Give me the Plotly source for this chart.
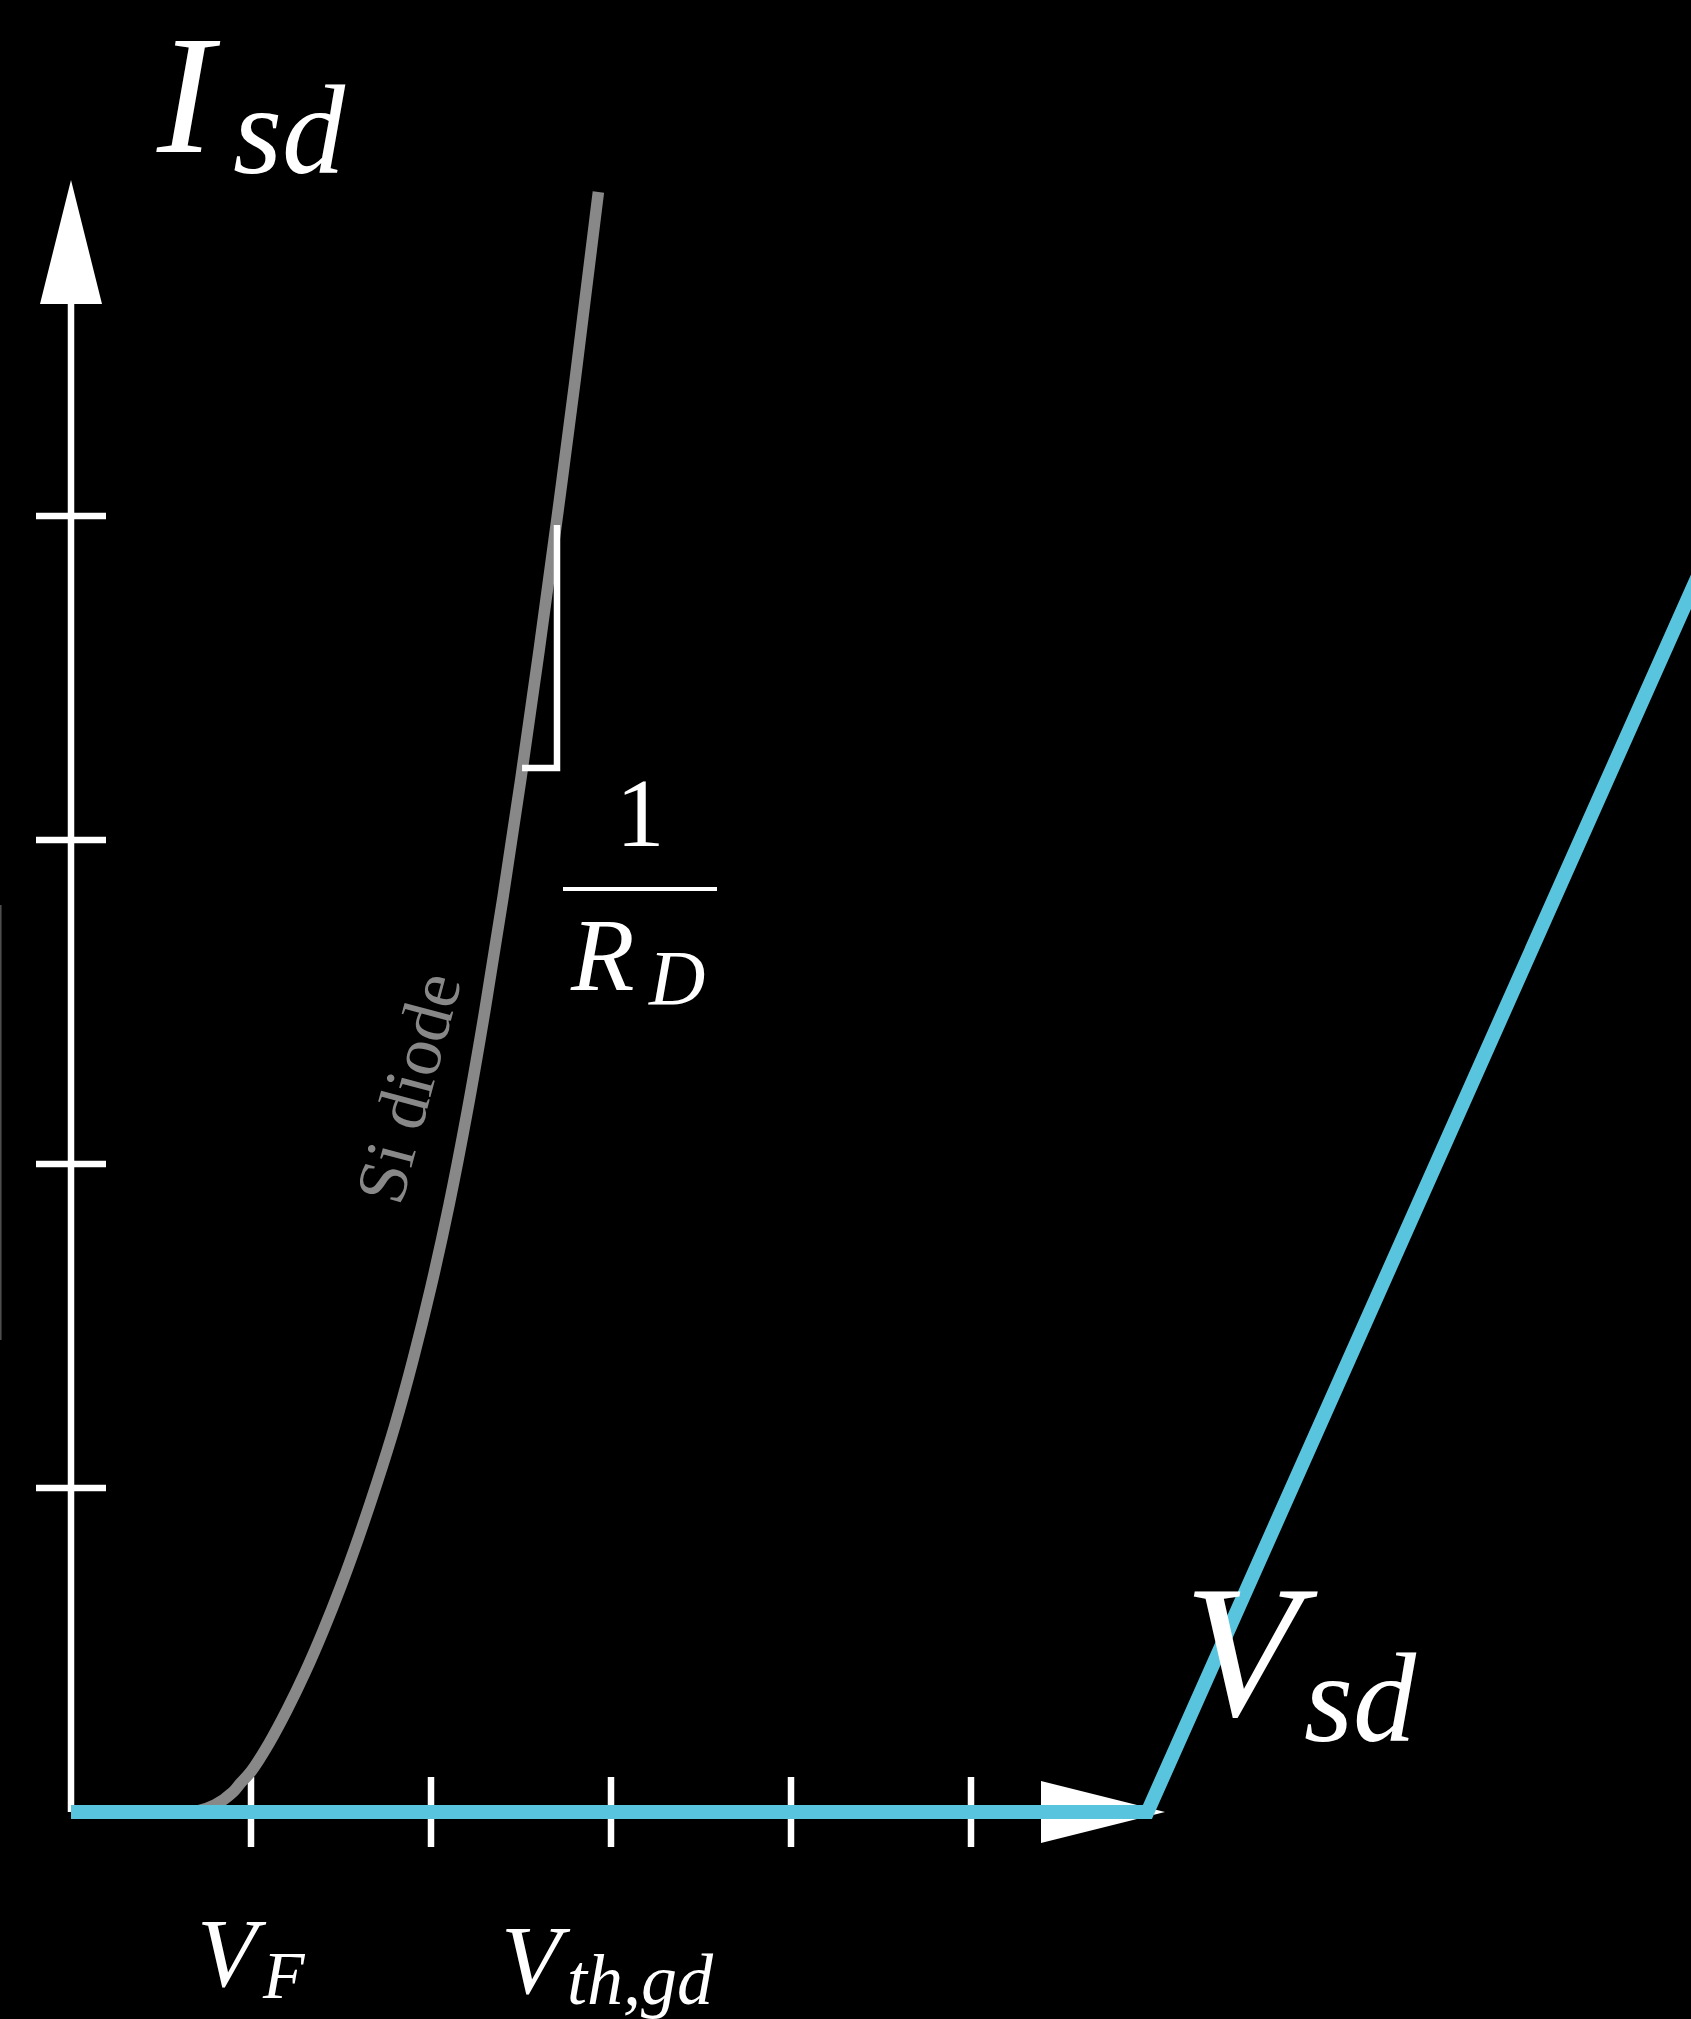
import plotly.graph_objects as go

# ---- data -------------------------------------------------------------
x_ticks = [1, 2, 3, 4, 5]
y_ticks = [1, 2, 3, 4]

# Si diode forward characteristic (V_sd, I_sd)
diode_v = [0.60, 0.70, 0.80, 0.90, 0.94, 1.00, 1.10, 1.20, 1.30, 1.40, 1.50,
           1.60, 1.70, 1.80, 1.90, 2.00, 2.10, 2.20, 2.30, 2.40, 2.50, 2.60,
           2.70, 2.80, 2.93]
diode_i = [0.000, 0.003, 0.022, 0.062, 0.088, 0.125, 0.212, 0.315, 0.430, 0.558,
           0.698, 0.851, 1.016, 1.194, 1.396, 1.621, 1.873, 2.158, 2.476, 2.823,
           3.192, 3.583, 3.992, 4.417, 5.000]

# third-quadrant body conduction (blue trace)
body_v = [0.0, 5.98, 9.5]
body_i = [0.0, 0.0, 4.39]

# slope marker on the diode curve
slope_v = [2.506, 2.70, 2.70]
slope_i = [3.222, 3.222, 3.972]

# ---- canvas / scale ---------------------------------------------------
W, H = 1691, 2019
ORIGIN_X, ORIGIN_Y = 71, 1812      # pixel position of (0, 0)
UX, UY = 180, 324                  # pixels per unit on each axis

def dx(px):
    return px / UX

def dy(px):
    return px / UY

def paper(px, py):
    return px / W, 1 - py / H

X_RANGE = [-ORIGIN_X / UX, (W - ORIGIN_X) / UX]
Y_RANGE = [(ORIGIN_Y - H) / UY, ORIGIN_Y / UY]

WHITE = "#FFFFFF"
GREY = "#888888"
BLUE = "#58C4DD"
AXIS_W = 6.5
TICK_HALF = 35
ARROW_LEN, ARROW_HALF = 124, 31
X_AXIS_TIP = dx(1165 - ORIGIN_X)
Y_AXIS_TIP = dy(ORIGIN_Y - 180)

fig = go.Figure()

# axis lines
fig.add_trace(go.Scatter(
    x=[0, 0, None, 0, X_AXIS_TIP - dx(ARROW_LEN)],
    y=[0, Y_AXIS_TIP - dy(ARROW_LEN), None, 0, 0],
    mode="lines", line=dict(color=WHITE, width=AXIS_W), hoverinfo="skip"))

# tick marks
tx, ty = [], []
for t in x_ticks:
    tx += [t, t, None]
    ty += [-dy(TICK_HALF), dy(TICK_HALF), None]
for t in y_ticks:
    tx += [-dx(TICK_HALF), dx(TICK_HALF), None]
    ty += [t, t, None]
fig.add_trace(go.Scatter(x=tx, y=ty, mode="lines",
                         line=dict(color=WHITE, width=AXIS_W), hoverinfo="skip"))

# arrow heads
fig.add_trace(go.Scatter(
    x=[-dx(ARROW_HALF), dx(ARROW_HALF), 0, -dx(ARROW_HALF)],
    y=[Y_AXIS_TIP - dy(ARROW_LEN)] * 2 + [Y_AXIS_TIP, Y_AXIS_TIP - dy(ARROW_LEN)],
    mode="lines", fill="toself", fillcolor=WHITE,
    line=dict(color=WHITE, width=0), hoverinfo="skip"))
fig.add_trace(go.Scatter(
    x=[X_AXIS_TIP - dx(ARROW_LEN)] * 2 + [X_AXIS_TIP, X_AXIS_TIP - dx(ARROW_LEN)],
    y=[-dy(ARROW_HALF), dy(ARROW_HALF), 0, -dy(ARROW_HALF)],
    mode="lines", fill="toself", fillcolor=WHITE,
    line=dict(color=WHITE, width=0), hoverinfo="skip"))

# Si diode curve
fig.add_trace(go.Scatter(x=diode_v, y=diode_i, mode="lines",
                         line=dict(color=GREY, width=11.5, shape="spline", smoothing=1.0),
                         hoverinfo="skip"))

# slope marker
fig.add_trace(go.Scatter(x=slope_v, y=slope_i, mode="lines",
                         line=dict(color=WHITE, width=AXIS_W), hoverinfo="skip"))

# body diode / channel trace
fig.add_trace(go.Scatter(x=body_v, y=body_i, mode="lines",
                         line=dict(color=BLUE, width=14), hoverinfo="skip"))

# ---- labels -----------------------------------------------------------
MATH = "Liberation Serif"

def label(text, px, py, size, italic=True, color=WHITE, angle=0, family=MATH):
    x, y = paper(px, py)
    fig.add_annotation(
        text=text, x=x, y=y, xref="paper", yref="paper",
        xanchor="center", yanchor="middle", showarrow=False, textangle=angle,
        font=dict(family=family, size=size, color=color,
                  style="italic" if italic else "normal"))

label("I", 188, 95, 170)
label("sd", 289, 131, 126)
label("V", 1251, 1651, 189)
label("sd", 1360, 1698, 126)
label("V", 232, 1953, 98)
label("F", 284, 1975, 68)
label("V", 536, 1960, 98)
label("th,gd", 640, 1980, 72)
label("1", 640, 813, 97, italic=False)
label("R", 602, 954, 104)
label("D", 676, 977, 78)
label("Si diode", 408, 1088, 71, italic=False, color=GREY, angle=-75)

# fraction bar of 1/R_D
bx0, by = paper(563, 889)
bx1, _ = paper(717, 889)
fig.add_shape(type="line", xref="paper", yref="paper", x0=bx0, x1=bx1, y0=by, y1=by,
              line=dict(color=WHITE, width=4))

# faint edge stroke along the left border
ex, ey0 = paper(0.8, 905)
_, ey1 = paper(0.8, 1340)
fig.add_shape(type="line", xref="paper", yref="paper", x0=ex, x1=ex, y0=ey0, y1=ey1,
              line=dict(color="rgba(150,150,150,0.55)", width=1.5))

fig.update_layout(
    width=W, height=H, autosize=False,
    margin=dict(l=0, r=0, t=0, b=0, pad=0),
    paper_bgcolor="black", plot_bgcolor="black",
    showlegend=False,
    xaxis=dict(visible=False, range=X_RANGE, fixedrange=True),
    yaxis=dict(visible=False, range=Y_RANGE, fixedrange=True),
)

fig.write_html("out.html", config={"displayModeBar": False})
